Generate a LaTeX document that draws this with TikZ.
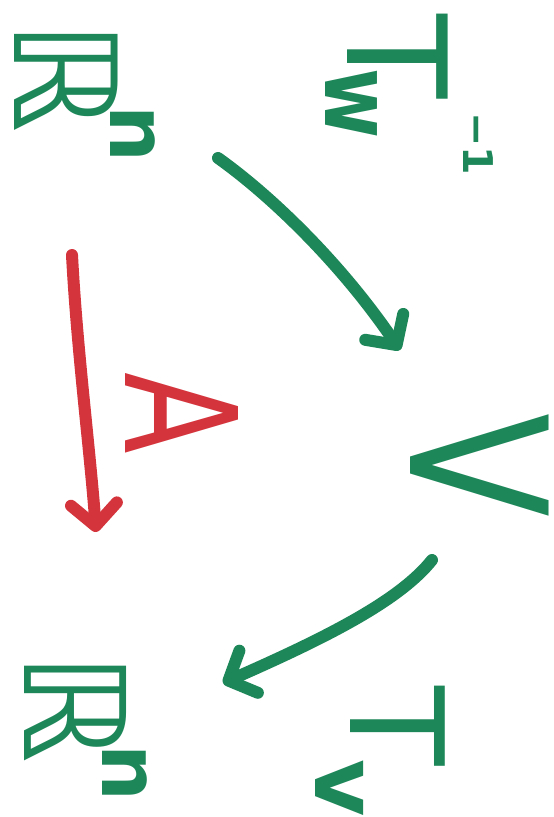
\documentclass[tikz,border=0pt]{standalone}
\usepackage{fontspec}
\usepackage{graphicx}
\setmainfont{DejaVu Sans}
\usetikzlibrary{arrows.meta}
\definecolor{grn}{RGB}{30,135,90}
\definecolor{rd}{RGB}{212,52,60}
\newcommand\fs[1]{\fontsize{#1}{#1}\selectfont}
\newcommand\nodepth[1]{\raisebox{0pt}[\height][0pt]{#1}}
\begin{document}
\begin{tikzpicture}[x=1pt,y=-1pt,
  lbl/.style={inner sep=0pt, outer sep=0pt, rotate=-90, anchor=base west, text=grn},
  pen/.style={line width=12pt, line cap=round, line join=round, draw=grn,
    -{Straight Barb[length=22pt,width=46pt,round]}},
  redpen/.style={pen, draw=rd}]
\useasboundingbox (0,0) rectangle (554,817);
% labels (diagram drawn rotated a quarter turn clockwise)
\node[lbl] (r1) at (15,20) {\nodepth{\fs{142}ℝ\kern-27pt\raisebox{96pt}{\fs{80}\bfseries n}}};
\node[lbl] (r2) at (24,652) {\nodepth{\fs{140}ℝ\kern-18pt\raisebox{78pt}{\fs{80}\bfseries n}}};
\node[lbl] (tw) at (347,14) {\nodepth{\fs{138}T\kern-30pt\rlap{\raisebox{-22pt}{\fs{95}\bfseries\scalebox{0.8}[1]{w}}}\kern44pt\raisebox{116pt}{\fs{41}\bfseries −1}}};
\node[lbl] (tv) at (350,686) {\nodepth{\fs{130}T\kern-6pt\raisebox{-35pt}{\fs{88}\bfseries v}}};
\node[lbl] (v) at (410,413) {\nodepth{\fs{190}\scalebox{0.8}[1]{V}}};
\node[lbl, text=rd] (a) at (125,372) {\nodepth{\fs{155}\scalebox{0.77}[1]{A}}};
% arrow end points
\coordinate (p1) at (218,158);
\coordinate (q1) at (400,350);
\coordinate (p2) at (432,560);
\coordinate (q2) at (223,683);
\coordinate (p3) at (72,255);
\coordinate (q3) at (96,532);
\draw[pen] (p1) .. controls (270,195) and (340,262) .. (q1);
\draw[pen] (p2) .. controls (400,600) and (330,636) .. (q2);
\draw[redpen] (p3) .. controls (77,350) and (90,450) .. (q3);
\end{tikzpicture}
\end{document}
